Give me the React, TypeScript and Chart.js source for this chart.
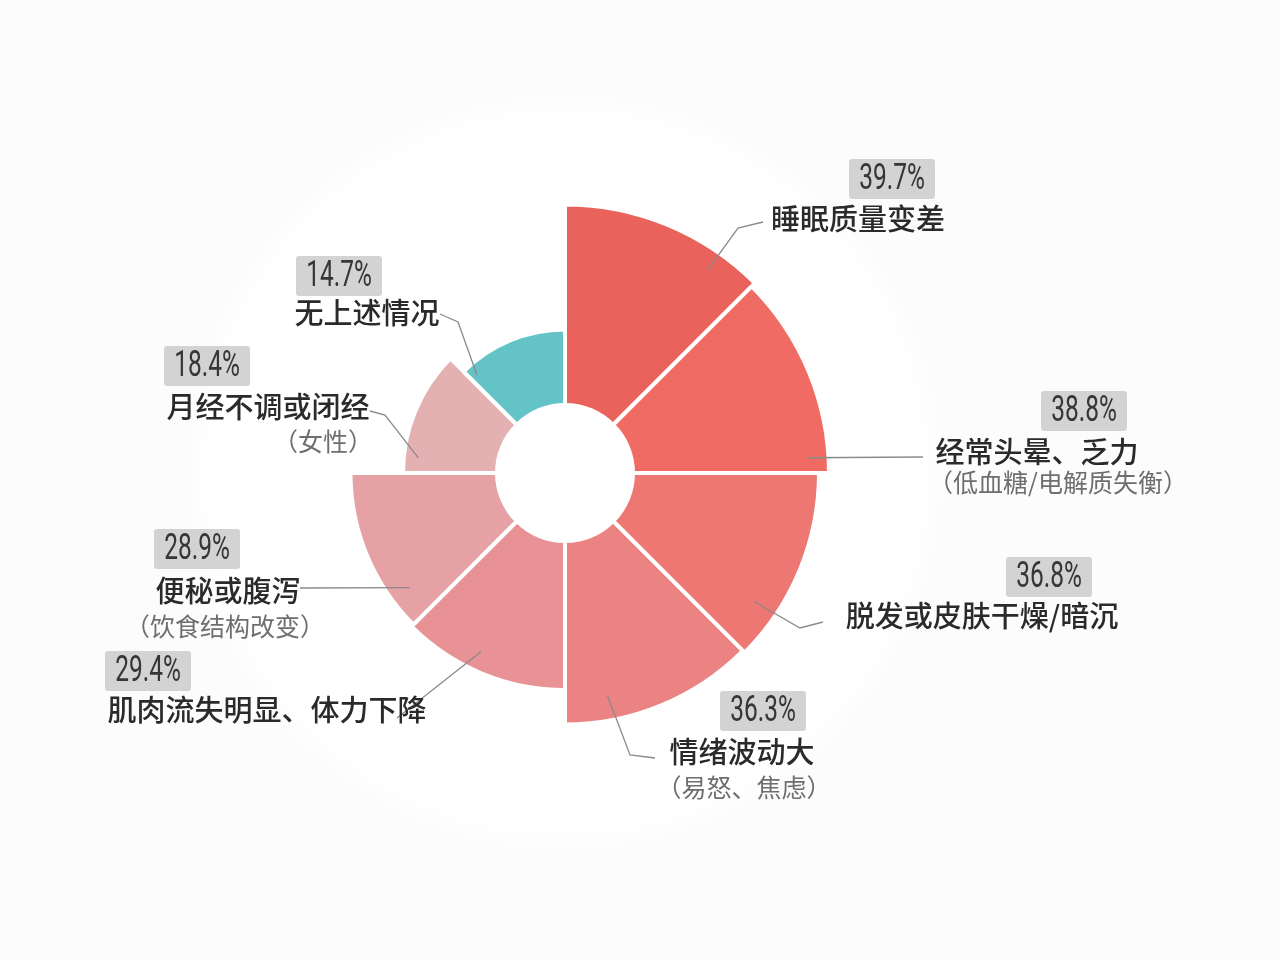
import React, { useEffect, useRef } from 'react';
import { Chart, registerables } from 'chart.js';

Chart.register(...registerables);

// categories (clockwise from 12 o'clock)
const categories = [
  '睡眠质量变差',
  '经常头晕、乏力',
  '脱发或皮肤干燥/暗沉',
  '情绪波动大',
  '肌肉流失明显、体力下降',
  '便秘或腹泻',
  '月经不调或闭经',
  '无上述情况',
];
const notes = ['', '（低血糖/电解质失衡）', '', '（易怒、焦虑）', '', '（饮食结构改变）', '（女性）', ''];
const shares = [39.7, 38.8, 36.8, 36.3, 29.4, 28.9, 18.4, 14.7];

const colors = ['#e9625b', '#ef6b63', '#ed7773', '#eb8383', '#e89295', '#e5a1a4', '#e4b1b2', '#63c3c7'];

// label layout, offsets from the chart centre
const boxPos = [[327, -294], [519, -62], [484, 104], [198, 238], [-417, 198], [-368, 76], [-358, -107], [-226, -197]];
const titlePos = [[293, -254], [472, -21], [417, 143], [177, 279], [-298, 237], [-337, 118], [-297, -66], [-198, -160]];
const notePos = [null, [493, 9], null, [179, 314], null, [-340, 153], [-242, -32], null];
// where the leader leaves the slice: fraction of the sweep, fraction of the radius
const leaderStart = [[0.78, 0.92], [0.92, 0.92], [0.76, 0.9], [0.76, 0.9], [0.56, 0.91], [0.19, 0.9], [0.13, 0.91], [0.07, 0.92]];
const leaderBends = [
  [[173, -245], [198, -251]],
  [[358, -16]],
  [[235, 155], [258, 149]],
  [[65, 282], [90, 285]],
  [[-168, 245]],
  [[-265, 115]],
  [[-180, -58], [-195, -62]],
  [[-107, -151], [-125, -159]],
];

const CJK = '"Noto Sans CJK SC", "Noto Sans", sans-serif';

const backdrop = {
  id: 'backdrop',
  beforeDraw(chart: any) {
    const { ctx, width, height } = chart;
    const s = chart.scales.r;
    ctx.save();
    ctx.fillStyle = '#fcfcfc';
    ctx.fillRect(0, 0, width, height);
    const g = ctx.createRadialGradient(s.xCenter, s.yCenter, 355, s.xCenter, s.yCenter, 380);
    g.addColorStop(0, '#ffffff');
    g.addColorStop(1, 'rgba(255,255,255,0)');
    ctx.fillStyle = g;
    ctx.beginPath();
    ctx.arc(s.xCenter, s.yCenter, 380, 0, Math.PI * 2);
    ctx.fill();
    ctx.restore();
  },
};

const holeAndLabels = {
  id: 'holeAndLabels',
  afterDatasetsDraw(chart: any) {
    const { ctx } = chart;
    const s = chart.scales.r;
    const cx = s.xCenter;
    const cy = s.yCenter;

    // centre hole
    ctx.save();
    ctx.fillStyle = '#ffffff';
    ctx.beginPath();
    ctx.arc(cx, cy, s.getDistanceFromCenterForValue(0), 0, Math.PI * 2);
    ctx.fill();

    const arcs = chart.getDatasetMeta(0).data;
    arcs.forEach((arc: any, i: number) => {
      const { x, y, startAngle, endAngle, outerRadius } = arc.getProps(['x', 'y', 'startAngle', 'endAngle', 'outerRadius'], true);
      const [t, rf] = leaderStart[i];
      const a = startAngle + t * (endAngle - startAngle);
      const r = outerRadius * rf;

      // leader line
      ctx.strokeStyle = '#8a8a8a';
      ctx.lineWidth = 1.3;
      ctx.beginPath();
      ctx.moveTo(x + Math.cos(a) * r, y + Math.sin(a) * r);
      leaderBends[i].forEach(([dx, dy]) => ctx.lineTo(cx + dx, cy + dy));
      ctx.stroke();

      // percentage box
      const [bx, by] = boxPos[i];
      const bw = 86;
      const bh = 40;
      ctx.fillStyle = '#d3d3d3';
      ctx.beginPath();
      ctx.roundRect(cx + bx - bw / 2, cy + by - bh / 2, bw, bh, 3);
      ctx.fill();
      ctx.save();
      ctx.translate(cx + bx, cy + by + 1);
      ctx.scale(0.68, 1);
      ctx.fillStyle = '#363636';
      ctx.font = '36px Roboto, sans-serif';
      ctx.textAlign = 'center';
      ctx.textBaseline = 'middle';
      ctx.fillText(shares[i].toFixed(1) + '%', 0, 0);
      ctx.restore();

      // category title
      const [tx, ty] = titlePos[i];
      ctx.fillStyle = '#2a2a2a';
      ctx.font = `500 29px ${CJK}`;
      ctx.textAlign = 'center';
      ctx.textBaseline = 'middle';
      ctx.fillText(categories[i], cx + tx, cy + ty);

      const np = notePos[i];
      if (np && notes[i]) {
        ctx.fillStyle = '#6e6e6e';
        ctx.font = `25px ${CJK}`;
        ctx.fillText(notes[i], cx + np[0], cy + np[1]);
      }
    });
    ctx.restore();
  },
};

export default function App() {
  const canvasRef = useRef<HTMLCanvasElement>(null);
  const chartRef = useRef<Chart | null>(null);

  useEffect(() => {
    if (!canvasRef.current) return;
    if (chartRef.current) chartRef.current.destroy();

    chartRef.current = new Chart(canvasRef.current, {
      type: 'polarArea',
      data: {
        labels: categories,
        datasets: [
          {
            data: shares,
            backgroundColor: colors,
            borderColor: '#ffffff',
            borderWidth: 4,
          },
        ],
      },
      options: {
        responsive: true,
        maintainAspectRatio: false,
        animation: false,
        layout: { padding: { left: 295, right: 445, top: 203, bottom: 217 } },
        plugins: {
          legend: { display: false },
          tooltip: { enabled: false },
        },
        scales: {
          r: {
            min: -14,
            max: 40,
            ticks: { display: false },
            grid: { display: false },
            angleLines: { display: false },
            pointLabels: { display: false },
          },
        },
      },
      plugins: [backdrop, holeAndLabels],
    });

    return () => {
      if (chartRef.current) {
        chartRef.current.destroy();
        chartRef.current = null;
      }
    };
  }, []);

  return (
    <div style={{ position: 'fixed', left: 0, top: 0, width: '1280px', height: '960px', background: '#fcfcfc' }}>
      <canvas ref={canvasRef}></canvas>
    </div>
  );
}
